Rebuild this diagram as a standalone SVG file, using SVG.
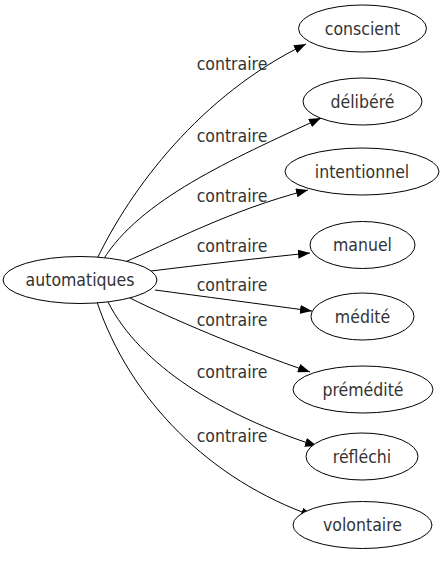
<svg xmlns="http://www.w3.org/2000/svg" width="444" height="563" viewBox="0 0 444 563">
<defs>
<marker id="arr" viewBox="0 0 12 9" refX="12" refY="4.5" markerWidth="12" markerHeight="9" markerUnits="userSpaceOnUse" orient="auto">
<path d="M0,0 L12,4.5 L0,9 Z" fill="#000"/>
</marker>
<style>
.n ellipse{fill:#fff;stroke:#000;stroke-width:1}
.n text,.lbl text{font-family:"DejaVu Sans Condensed","DejaVu Sans",sans-serif;font-stretch:condensed;font-size:17.5px;fill:#333;text-anchor:middle}
#edges path{fill:none;stroke:#000;stroke-width:1;marker-end:url(#arr)}
</style>
</defs>
<rect width="444" height="563" fill="#fff"/>
<g id="edges">
<path d="M97,259 C130,190 200,95 306,44"/>
<path d="M103,260 C140,200 230,160 321,118"/>
<path d="M125,262 C165,245 230,210 308,190"/>
<path d="M151,271 C200,265 260,258 310,253"/>
<path d="M155,290 C200,296 260,304 312,311"/>
<path d="M130,298 C170,318 240,348 310,372"/>
<path d="M108,302 C140,365 220,415 317,446"/>
<path d="M97,302 C130,400 210,480 313,516"/>
</g>
<g class="lbl">
<text x="232" y="70">contraire</text>
<text x="232" y="142">contraire</text>
<text x="232" y="202">contraire</text>
<text x="232" y="252">contraire</text>
<text x="232" y="291">contraire</text>
<text x="232" y="326">contraire</text>
<text x="232" y="378">contraire</text>
<text x="232" y="442">contraire</text>
</g>
<g id="automatiques" class="n"><ellipse cx="80" cy="280" rx="77" ry="23.5"/><text x="80" y="286">automatiques</text></g>
<g id="conscient" class="n"><ellipse cx="362.5" cy="28.5" rx="64" ry="23.5"/><text x="362.5" y="34.5">conscient</text></g>
<g id="delibere" class="n"><ellipse cx="362.5" cy="101.5" rx="59.5" ry="23.5"/><text x="362.5" y="107.5">délibéré</text></g>
<g id="intentionnel" class="n"><ellipse cx="362" cy="171.5" rx="77" ry="23.5"/><text x="362" y="177.5">intentionnel</text></g>
<g id="manuel" class="n"><ellipse cx="362.5" cy="245" rx="52.5" ry="23.5"/><text x="362.5" y="251">manuel</text></g>
<g id="medite" class="n"><ellipse cx="362.5" cy="316.5" rx="51.5" ry="23.5"/><text x="362.5" y="322.5">médité</text></g>
<g id="premedite" class="n"><ellipse cx="363" cy="389.5" rx="70" ry="23.5"/><text x="363" y="395.5">prémédité</text></g>
<g id="reflechi" class="n"><ellipse cx="362" cy="456.5" rx="56" ry="23.5"/><text x="362" y="462.5">réfléchi</text></g>
<g id="volontaire" class="n"><ellipse cx="362.5" cy="525" rx="69.5" ry="23.5"/><text x="362.5" y="531">volontaire</text></g>
</svg>
